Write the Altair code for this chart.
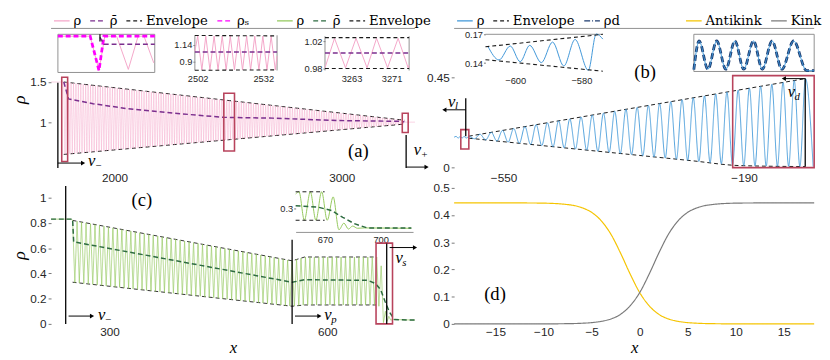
import altair as alt
import numpy as np
import pandas as pd

SANS = "Liberation Sans"
SERIF = "Liberation Serif"
LEGFONT = "DejaVu Serif"
RED = "#b8435c"
FRAME = "#8f8f8f"
FMT = ".6~g"

W1, W2 = 372, 368
H1, H2 = 145, 141

# ======================= Panel (a) =======================
a_xdom = [1721, 3322]
a_ydom = [0.40, 2.168]
a_names = ["ρ", "ρ̄", "Envelope", "ρₛ"]
a_colors = ["#f4a6c9", "#7b2f8e", "#1a1a1a", "#ff00ff"]
a_dashes = [[1, 0], [5, 3], [4, 3], [5, 3]]
a_left_x, a_left_y = [1721, 1777], [1.5, 1.5]
a_osc_x, a_osc_cycles = [1777, 3275], 140
a_env_x, a_env_up, a_env_lo = [1777, 3275], [1.5, 1.024], [0.598, 0.976]
a_right_x, a_right_y = [3278, 3322], [1.0, 1.0]
a_mean_x = [1777, 1798, 1906, 2052, 2266, 2481, 2695, 2979, 3266, 3275]
a_mean_y = [1.5, 1.29, 1.23, 1.17, 1.11, 1.06, 1.05, 1.02, 1.01, 1.0]
a_box = dict(x0=[1768, 2481, 3266], x1=[1794, 2528, 3292], y0=[0.51, 0.64, 0.87], y1=[1.56, 1.36, 1.11])
a_vline = dict(x=[1751, 3283], y0=[0.43, 0.43], y1=[1.49, 0.84])
a_arrow = dict(x0=[1751, 3283], x1=[1862, 3373], y=[0.49, 0.44], d=["r", "r"])
a_vlab = dict(x=[1884, 3317], y=[0.51, 0.65], sub=["−", "+"])
a_tag = dict(x=[3073], y=[0.64], t=["(a)"])

# inset a1 (local units)
a1_rho_x = [0, 33, 42, 48, 60, 72, 82, 88, 98]
a1_rho_y = [1.5, 1.5, 0.6, 1.5, 1.5, 0.63, 1.5, 1.5, 0.8]
a1_s_x = [0, 33, 42, 47, 99]
a1_s_y = [1.5, 1.5, 0.6, 1.5, 1.5]
a1_mean_x = [43, 47, 99]
a1_mean_y = [1.47, 1.29, 1.29]
a1_v_x, a1_v_y = [43, 43], [1.55, 1.36]
# inset a2
a2_x = [2500.7, 2502.0, 2503.9, 2505.7, 2507.6, 2509.5, 2511.3, 2513.2, 2515.0, 2516.9, 2518.8,
        2520.7, 2522.5, 2524.4, 2526.2, 2528.1, 2530.0, 2531.8, 2533.7, 2535.6, 2537.5, 2538.3]
a2_y = [1.05, 1.27, 0.78, 1.27, 0.78, 1.27, 0.78, 1.27, 0.78, 1.27, 0.78,
        1.27, 0.78, 1.27, 0.78, 1.27, 0.78, 1.27, 0.78, 1.27, 0.78, 0.98]
a2_env_x, a2_env_up, a2_env_lo, a2_mean = [2500.7, 2538.3], [1.278, 1.272], [0.776, 0.782], [1.04, 1.04]
# inset a3
a3_x = [3257.7, 3259.6, 3261.8, 3263.9, 3266.1, 3268.0, 3270.2, 3272.3, 3274.3, 3274.5]
a3_y = [0.981, 1.025, 0.981, 1.025, 0.981, 1.025, 0.981, 1.025, 0.981, 0.985]
a3_env_x, a3_env_up, a3_env_lo, a3_mean = [3257.7, 3274.5], [1.026, 1.026], [0.980, 0.980], [1.003, 1.003]

# ======================= Panel (b) =======================
b_xdom = [-624, -85]
b_ydom = [-0.0135, 0.696]
b_names = ["ρ", "Envelope", "ρd"]
b_colors = ["#3f97d8", "#1a1a1a", "#1b3a6e"]
b_dashes = [[1, 0], [4, 3], [6, 2, 1, 2]]
b_pre_x = [-624, -621, -618, -615, -612, -609, -606]
b_pre_y = [0.152, 0.156, 0.148, 0.155, 0.148, 0.156, 0.147]
b_osc_x, b_osc_cycles = [-602, -98], 30
b_env_x_up, b_env_up = [-602, -98], [0.157, 0.445]
b_env_x_lo, b_env_lo = [-602, -270, -196, -98], [0.147, 0.035, 0.01, 0.005]
b_end_x, b_end_y = [-86.5], [0.005]
b_box = dict(x0=[-207, -614], x1=[-85, -602], y0=[0.0, 0.093], y1=[0.46, 0.19])
b_vline = dict(x=[-606.6, -98.4], y0=[0.157, 0.005], y1=[0.347, 0.445])
b_arrow = dict(x0=[-606.6, -98.4], x1=[-638.6, -130.4], y=[0.289, 0.445], d=["l", "l"])
b_vlab = dict(x=[-633, -124.6], y=[0.33, 0.376], sub=["l", "d"])
b_tag = dict(x=[-338], y=[0.475], t=["(b)"])
# inset b1
b1_x = [-608.3, -604.9, -601.5, -598.5, -595.6, -592.1, -588.7, -585.3, -581.9, -577.9, -575.5, -573.5]
b1_y = [0.1578, 0.1433, 0.1578, 0.1415, 0.1585, 0.1405, 0.1619, 0.137, 0.1646, 0.1325, 0.1703, 0.165]
b1_env_x, b1_env_up, b1_env_lo = [-609, -573.5], [0.157, 0.170], [0.1436, 0.1316]
# inset b2 (local units)
b2_x = [0, 5.4, 14.4, 23.4, 32.7, 42, 51, 61, 70, 80, 90, 102, 115.4, 123]
b2_y = [0.05, 0.82, 0.06, 0.82, 0.06, 0.82, 0.06, 0.82, 0.06, 0.82, 0.06, 0.82, 0.02, 0.02]

# ======================= Panel (c) =======================
c_xdom = [219.3, 721]
c_ydom = [0, 1.093]
c_names = ["ρ", "ρ̄", "Envelope"]
c_colors = ["#93c85c", "#2d6b40", "#1a1a1a"]
c_dashes = [[1, 0], [5, 3], [4, 3]]
c_left_x, c_left_y = [219.3, 247], [0.83, 0.83]
c_seg1_x, c_seg1_cycles = [249, 551.6], 49
c_seg1_env_x, c_seg1_up, c_seg1_lo = [249, 551.6], [0.82, 0.50], [0.33, 0.14]
c_seg2_x, c_seg2_cycles = [551.6, 668.2], 19
c_seg2_env_x, c_seg2_up, c_seg2_lo = [551.6, 569, 668.2], [0.50, 0.53, 0.53], [0.14, 0.15, 0.15]
c_tail_x = [671.2, 674.4, 677.5, 680.2, 682.6, 684.9, 687.5, 691.1, 721]
c_tail_y = [0.14, 0.46, 0.01, 0.10, 0.02, 0.06, 0.03, 0.035, 0.03]
c_mean_x = [219.3, 249, 250.5, 551.6, 569, 656, 666.5, 673.5, 679.6, 685.8, 692.8, 721]
c_mean_y = [0.83, 0.83, 0.65, 0.33, 0.35, 0.345, 0.32, 0.273, 0.18, 0.093, 0.034, 0.03]
c_env_x = [249, 551.6, 569, 667.3]
c_env_up = [0.82, 0.50, 0.53, 0.53]
c_env_lo = [0.33, 0.14, 0.15, 0.15]
c_box = dict(x0=[667.3], x1=[690], y0=[0.0], y1=[0.64])
c_vline = dict(x=[239.5, 551.6, 682], y0=[0, 0, 0], y1=[1.093, 0.667, 0.636])
c_arrow = dict(x0=[243.5, 555.6, 686], x1=[275.8, 589.2, 721], y=[0.062, 0.062, 0.605], d=["r", "r", "r"])
c_vlab = dict(x=[283.9, 596, 694], y=[0.07, 0.07, 0.52], sub=["−", "p", "s"])
c_tag = dict(x=[344.4], y=[0.977], t=["(c)"])
# inset c1
c1_x = [654.2, 656.0, 658.9, 662.1, 665.1, 668.2, 671.2, 674.4, 677.5, 680.2, 682.6, 684.9, 687.5, 691.1, 716.5]
c1_y = [0.50, 0.53, 0.14, 0.53, 0.14, 0.53, 0.14, 0.46, 0.01, 0.10, 0.02, 0.06, 0.03, 0.035, 0.03]
c1_env_x, c1_env_up, c1_env_lo = [654.2, 669.8], [0.53, 0.53], [0.14, 0.14]
c1_mean_x = [654.2, 666.5, 673.5, 679.6, 685.8, 692.8, 716.5]
c1_mean_y = [0.34, 0.318, 0.273, 0.18, 0.093, 0.034, 0.034]

# ======================= Panel (d) =======================
d_xdom = [-19.3, 18.15]
d_ydom = [0, 0.507]
d_names = ["Antikink", "Kink"]
d_colors = ["#f5c400", "#7a7a7a"]
d_x = [-19.3, -12, -10, -8, -6, -5, -4, -3, -2, -1, 0, 1, 2, 3, 4, 5, 6, 8, 10, 12, 18.15]
d_antikink = [0.445, 0.4445, 0.4438, 0.4403, 0.4269, 0.410, 0.379, 0.330, 0.261, 0.184, 0.115,
              0.066, 0.035, 0.018, 0.0093, 0.0047, 0.0024, 0.0006, 0.0001, 0.0, 0.0]
d_kink = [0.0, 0.0, 0.0001, 0.0006, 0.0024, 0.0047, 0.0093, 0.018, 0.035, 0.066, 0.115,
          0.184, 0.261, 0.330, 0.379, 0.410, 0.4269, 0.4403, 0.4438, 0.4445, 0.445]
d_tag = dict(x=[-15.05], y=[0.109], t=["(d)"])


# ======================= helpers =======================
def zigzag(xr, cycles, env_x, env_up, env_lo):
    xs = np.linspace(xr[0], xr[1], 2 * cycles + 1)
    up = np.interp(xs, env_x, env_up)
    lo = np.interp(xs, env_x, env_lo)
    ys = np.where(np.arange(xs.size) % 2 == 0, up, lo)
    return list(xs), list(ys)


def line_df(parts):
    rows = []
    for name, g, xs, ys in parts:
        for i, (x, y) in enumerate(zip(xs, ys)):
            rows.append((float(x), float(y), name, g, i))
    return pd.DataFrame(rows, columns=["x", "y", "s", "g", "i"])


def make_legend(lx, ly):
    return alt.Legend(orient="none", legendX=lx, legendY=ly, direction="horizontal", title=None,
                      symbolType="stroke", symbolSize=256, symbolStrokeWidth=1.3,
                      labelFont=LEGFONT, labelFontSize=13.5, labelColor="black",
                      columnPadding=6, labelOffset=3, padding=0, symbolOffset=0)


def main_axis_x(values, title=None):
    kw = dict(values=values, orient="bottom", domain=False, ticks=False, labelPadding=3,
              labelFont=SANS, labelFontSize=12, labelFlush=False, format=FMT, grid=False)
    if title:
        kw.update(title=title, titleFont=SERIF, titleFontStyle="italic", titleFontSize=17,
                  titleFontWeight="normal", titleBaseline="alphabetic", titleY=29)
    else:
        kw.update(title=None, labelPadding=2)
    return alt.Axis(**kw)


def main_axis_y(values, title=None):
    kw = dict(values=values, orient="left", domain=False, tickSize=3, tickColor="#777",
              labelPadding=2, labelFont=SANS, labelFontSize=12, format=FMT, grid=False)
    if title:
        kw.update(title=title, titleFont=SERIF, titleFontStyle="italic", titleFontSize=18,
                  titleFontWeight="normal", titlePadding=1)
    else:
        kw.update(title=None)
    return alt.Axis(**kw)


def build_main(cfg):
    xs = alt.Scale(domain=cfg["xdom"], nice=False, zero=False)
    ys = alt.Scale(domain=cfg["ydom"], nice=False, zero=False)
    xa, ya = cfg["xaxis"], cfg["yaxis"]

    def X(f):
        return alt.X(f"{f}:Q", scale=xs, axis=xa)

    def Y(f):
        return alt.Y(f"{f}:Q", scale=ys, axis=ya)

    leg = cfg["legend"]
    color = alt.Color("s:N", scale=alt.Scale(domain=cfg["names"], range=cfg["colors"]), legend=leg)
    dash = alt.StrokeDash("s:N", scale=alt.Scale(domain=cfg["names"], range=cfg["dashes"]), legend=leg)
    layers = []
    for df, w in cfg["lines"]:
        layers.append(alt.Chart(df).mark_line(strokeWidth=w, interpolate=cfg["interp"]).encode(
            x=X("x"), y=Y("y"), color=color, strokeDash=dash, detail="g:N", order="i:Q"))
    if cfg.get("top"):
        top = pd.DataFrame({"x0": [cfg["xdom"][0]], "x1": [cfg["xdom"][1]], "y": [cfg["ydom"][1]]})
        layers.append(alt.Chart(top).mark_rule(color=FRAME, strokeWidth=1).encode(
            x=X("x0"), x2="x1:Q", y=Y("y")))
    if cfg.get("box"):
        layers.append(alt.Chart(pd.DataFrame(cfg["box"])).mark_rect(
            filled=False, color=RED, strokeWidth=1.6).encode(x=X("x0"), x2="x1:Q", y=Y("y0"), y2="y1:Q"))
    if cfg.get("vline"):
        layers.append(alt.Chart(pd.DataFrame(cfg["vline"])).mark_rule(
            color="black", strokeWidth=1.3).encode(x=X("x"), y=Y("y0"), y2="y1:Q"))
    if cfg.get("arrow"):
        adf = pd.DataFrame(cfg["arrow"])
        layers.append(alt.Chart(adf).mark_rule(color="black", strokeWidth=1).encode(
            x=X("x0"), x2="x1:Q", y=Y("y")))
        layers.append(alt.Chart(adf).mark_point(filled=True, size=24, color="black", opacity=1).encode(
            x=X("x1"), y=Y("y"),
            shape=alt.Shape("d:N", scale=alt.Scale(domain=["r", "l"], range=["triangle-right", "triangle-left"]),
                            legend=None)))
    if cfg.get("vlab"):
        vdf = pd.DataFrame(cfg["vlab"]).assign(v="v")
        layers.append(alt.Chart(vdf).mark_text(font=SERIF, fontStyle="italic", fontSize=17, align="left",
                                               baseline="middle", color="black").encode(
            x=X("x"), y=Y("y"), text="v:N"))
        layers.append(alt.Chart(vdf).mark_text(font=SERIF, fontStyle="italic", fontSize=11, align="left",
                                               baseline="middle", color="black", dx=7, dy=5).encode(
            x=X("x"), y=Y("y"), text="sub:N"))
    if cfg.get("tag"):
        layers.append(alt.Chart(pd.DataFrame(cfg["tag"])).mark_text(
            font=SERIF, fontSize=19, align="center", baseline="middle", color="black").encode(
            x=X("x"), y=Y("y"), text="t:N"))
    return alt.layer(*layers)


def build_inset(I, H):
    xs = alt.Scale(domain=I["xdom"], range=I["xr"], nice=False, zero=False)
    ys = alt.Scale(domain=I["ydom"], range=I["yr"], nice=False, zero=False)
    if I.get("xt"):
        xa = alt.Axis(orient="bottom", offset=I["yr"][0] - H, values=I["xt"], title=None,
                      domain=I.get("xdomain", False), domainColor=FRAME, ticks=False,
                      labelPadding=3, labelFontSize=9.5, labelFont=SANS, labelFlush=False,
                      labelOverlap=False, format=FMT, grid=False)
    else:
        xa = None
    if I.get("yt"):
        ya = alt.Axis(orient="left", offset=-I["xr"][0], values=I["yt"], title=None, domain=False,
                      tickSize=2, tickColor="#777", labelPadding=1, labelFontSize=9.5, labelFont=SANS,
                      labelOverlap=False, format=FMT, grid=False)
    else:
        ya = None

    def X(f):
        return alt.X(f"{f}:Q", scale=xs, axis=xa)

    def Y(f):
        return alt.Y(f"{f}:Q", scale=ys, axis=ya)

    layers = []
    fr = I.get("frame")
    b = pd.DataFrame({"x0": [I["xdom"][0]], "x1": [I["xdom"][1]], "y0": [I["ydom"][0]], "y1": [I["ydom"][1]]})
    if fr == "rect":
        layers.append(alt.Chart(b).mark_rect(filled=False, color=FRAME, strokeWidth=1).encode(
            x=X("x0"), x2="x1:Q", y=Y("y0"), y2="y1:Q"))
    elif fr == "lr":
        layers.append(alt.Chart(b).mark_rule(color=FRAME, strokeWidth=1).encode(x=X("x0"), y=Y("y0"), y2="y1:Q"))
        layers.append(alt.Chart(b).mark_rule(color=FRAME, strokeWidth=1).encode(x=X("x1"), y=Y("y0"), y2="y1:Q"))
    elif fr == "top":
        layers.append(alt.Chart(b).mark_rule(color=FRAME, strokeWidth=1).encode(x=X("x0"), x2="x1:Q", y=Y("y1")))
    for xv, yv, col, w, dsh, interp in I["lines"]:
        df = pd.DataFrame({"x": xv, "y": yv, "i": range(len(xv))})
        mk = dict(color=col, strokeWidth=w, interpolate=interp)
        if dsh:
            mk["strokeDash"] = dsh
        layers.append(alt.Chart(df).mark_line(**mk).encode(x=X("x"), y=Y("y"), order="i:Q"))
    return alt.layer(*layers)


# ======================= Panel (a) build =======================
ox, oy = zigzag(a_osc_x, a_osc_cycles, a_env_x, a_env_up, a_env_lo)
a_rho = line_df([("ρ", "rho", a_left_x + ox[1:] + a_right_x, a_left_y + oy[1:] + a_right_y)])
a_env = line_df([("Envelope", "up", a_env_x, a_env_up), ("Envelope", "lo", a_env_x, a_env_lo)])
a_mean = line_df([("ρ̄", "m", a_mean_x, a_mean_y)])
main_a = build_main(dict(
    xdom=a_xdom, ydom=a_ydom, xaxis=main_axis_x([2000, 3000]), yaxis=main_axis_y([1, 1.5], "ρ"),
    legend=make_legend(2, -17), names=a_names, colors=a_colors, dashes=a_dashes,
    lines=[(a_env, 1.0), (a_rho, 0.5), (a_mean, 1.5)], interp="linear", top=True,
    box=a_box, vline=a_vline, arrow=a_arrow, vlab=a_vlab, tag=a_tag))
ins_a1 = build_inset(dict(xdom=[0, 99], ydom=[0.55, 1.55], xr=[7, 106], yr=[45, 6], frame="rect", lines=[
    (a1_rho_x, a1_rho_y, "#f4a6c9", 1.0, None, "linear"),
    (a1_s_x, a1_s_y, "#ff00ff", 2.8, [5, 3], "linear"),
    (a1_mean_x, a1_mean_y, "#7b2f8e", 1.5, [5, 3], "linear"),
    (a1_v_x, a1_v_y, "black", 1.2, None, "linear")]), H1)
ins_a2 = build_inset(dict(xdom=[2500.7, 2538.3], ydom=[0.773, 1.281], xr=[147, 231], yr=[43, 7], frame="lr",
                          xt=[2502, 2532], yt=[0.9, 1.14], lines=[
    (a2_x, a2_y, "#f4a6c9", 1.0, None, "linear"),
    (a2_env_x, a2_env_up, "#1a1a1a", 1.1, [4, 3], "linear"),
    (a2_env_x, a2_env_lo, "#1a1a1a", 1.1, [4, 3], "linear"),
    (a2_env_x, a2_mean, "#7b2f8e", 1.5, [5, 3], "linear")]), H1)
ins_a3 = build_inset(dict(xdom=[3257.7, 3274.5], ydom=[0.977, 1.028], xr=[280, 366], yr=[43, 8], frame="lr",
                          xt=[3263, 3271], yt=[0.98, 1.02], lines=[
    (a3_x, a3_y, "#f4a6c9", 1.0, None, "linear"),
    (a3_env_x, a3_env_up, "#1a1a1a", 1.1, [4, 3], "linear"),
    (a3_env_x, a3_env_lo, "#1a1a1a", 1.1, [4, 3], "linear"),
    (a3_env_x, a3_mean, "#7b2f8e", 1.5, [5, 3], "linear")]), H1)
panel_a = alt.layer(main_a, ins_a1, ins_a2, ins_a3).resolve_scale(
    x="independent", y="independent").properties(width=W1, height=H1)

# ======================= Panel (b) build =======================
bx, _ = zigzag(b_osc_x, b_osc_cycles, b_env_x_up, b_env_up, b_env_up)
bup = np.interp(bx, b_env_x_up, b_env_up)
blo = np.interp(bx, b_env_x_lo, b_env_lo)
by = [u if k % 2 == 0 else l for k, (u, l) in enumerate(zip(bup, blo))]
b_rho = line_df([("ρ", "rho", b_pre_x + bx + b_end_x, b_pre_y + by + b_end_y)])
b_env = line_df([("Envelope", "up", b_env_x_up, b_env_up), ("Envelope", "lo", b_env_x_lo, b_env_lo)])
main_b = build_main(dict(
    xdom=b_xdom, ydom=b_ydom, xaxis=main_axis_x([-550, -190]), yaxis=main_axis_y([0, 0.45]),
    legend=make_legend(2, -17), names=b_names, colors=b_colors, dashes=b_dashes,
    lines=[(b_env, 1.0), (b_rho, 0.9)], interp="monotone", top=True,
    box=b_box, vline=b_vline, arrow=b_arrow, vlab=b_vlab, tag=b_tag))
ins_b1 = build_inset(dict(xdom=[-609, -573.5], ydom=[0.1303, 0.17], xr=[32, 152], yr=[45, 6], frame="top",
                          xt=[-600, -580], yt=[0.14, 0.17], lines=[
    (b1_x, b1_y, "#3f97d8", 1.0, None, "monotone"),
    (b1_env_x, b1_env_up, "#1a1a1a", 1.1, [4, 3], "linear"),
    (b1_env_x, b1_env_lo, "#1a1a1a", 1.1, [4, 3], "linear")]), H1)
ins_b2 = build_inset(dict(xdom=[0, 123], ydom=[0, 1], xr=[245, 368], yr=[44, 6], frame="rect", lines=[
    (b2_x, b2_y, "#1b3a6e", 2.8, [6, 3], "monotone"),
    (b2_x, b2_y, "#3f97d8", 1.0, None, "monotone")]), H1)
panel_b = alt.layer(main_b, ins_b1, ins_b2).resolve_scale(
    x="independent", y="independent").properties(width=W2, height=H1)

# ======================= Panel (c) build =======================
s1x, s1y = zigzag(c_seg1_x, c_seg1_cycles, c_seg1_env_x, c_seg1_up, c_seg1_lo)
s2x, s2y = zigzag(c_seg2_x, c_seg2_cycles, c_seg2_env_x, c_seg2_up, c_seg2_lo)
c_rho = line_df([("ρ", "rho", c_left_x + s1x + s2x[1:] + c_tail_x, c_left_y + s1y + s2y[1:] + c_tail_y)])
c_env = line_df([("Envelope", "up", c_env_x, c_env_up), ("Envelope", "lo", c_env_x, c_env_lo)])
c_mean = line_df([("ρ̄", "m", c_mean_x, c_mean_y)])
main_c = build_main(dict(
    xdom=c_xdom, ydom=c_ydom, xaxis=main_axis_x([300, 600], "x"),
    yaxis=main_axis_y([0, 0.2, 0.4, 0.6, 0.8, 1], "ρ"),
    legend=make_legend(230, -178), names=c_names, colors=c_colors, dashes=c_dashes,
    lines=[(c_env, 0.9), (c_rho, 0.7), (c_mean, 1.5)], interp="linear",
    box=c_box, vline=c_vline, arrow=c_arrow, vlab=c_vlab, tag=c_tag))
ins_c1 = build_inset(dict(xdom=[654.2, 717.4], ydom=[-0.02, 0.543], xr=[250, 370], yr=[47, 5],
                          xt=[670, 700], yt=[0.3], xdomain=True, lines=[
    (c1_x, c1_y, "#93c85c", 1.0, None, "monotone"),
    (c1_env_x, c1_env_up, "#1a1a1a", 1.0, [4, 3], "linear"),
    (c1_env_x, c1_env_lo, "#1a1a1a", 1.0, [4, 3], "linear"),
    (c1_mean_x, c1_mean_y, "#2d6b40", 1.5, [5, 3], "linear")]), H2)
panel_c = alt.layer(main_c, ins_c1).resolve_scale(
    x="independent", y="independent").properties(width=W1, height=H2)

# ======================= Panel (d) build =======================
d_lines = line_df([("Antikink", "ak", d_x, d_antikink), ("Kink", "k", d_x, d_kink)])
panel_d = build_main(dict(
    xdom=d_xdom, ydom=d_ydom, xaxis=main_axis_x([-15, -10, -5, 0, 5, 10, 15], "x"),
    yaxis=main_axis_y([0, 0.1, 0.2, 0.3, 0.4, 0.5]),
    legend=make_legend(236, -178), names=d_names, colors=d_colors, dashes=[[1, 0], [1, 0]],
    lines=[(d_lines, 1.2)], interp="monotone", tag=d_tag)).properties(width=W2, height=H2)

chart = alt.concat(panel_a, panel_b, panel_c, panel_d, columns=2,
                   spacing=alt.RowColnumber(row=16, column=40), bounds="flush").resolve_scale(
    color="independent", strokeDash="independent", shape="independent"
).resolve_legend(color="independent", strokeDash="independent", shape="independent").properties(
    padding={"left": 3, "top": 0, "right": 0, "bottom": 0}
).configure_view(stroke=None).configure_axis(labelColor="#262626", grid=False)

chart.save("out.html", embed_options={"renderer": "svg", "actions": False})
